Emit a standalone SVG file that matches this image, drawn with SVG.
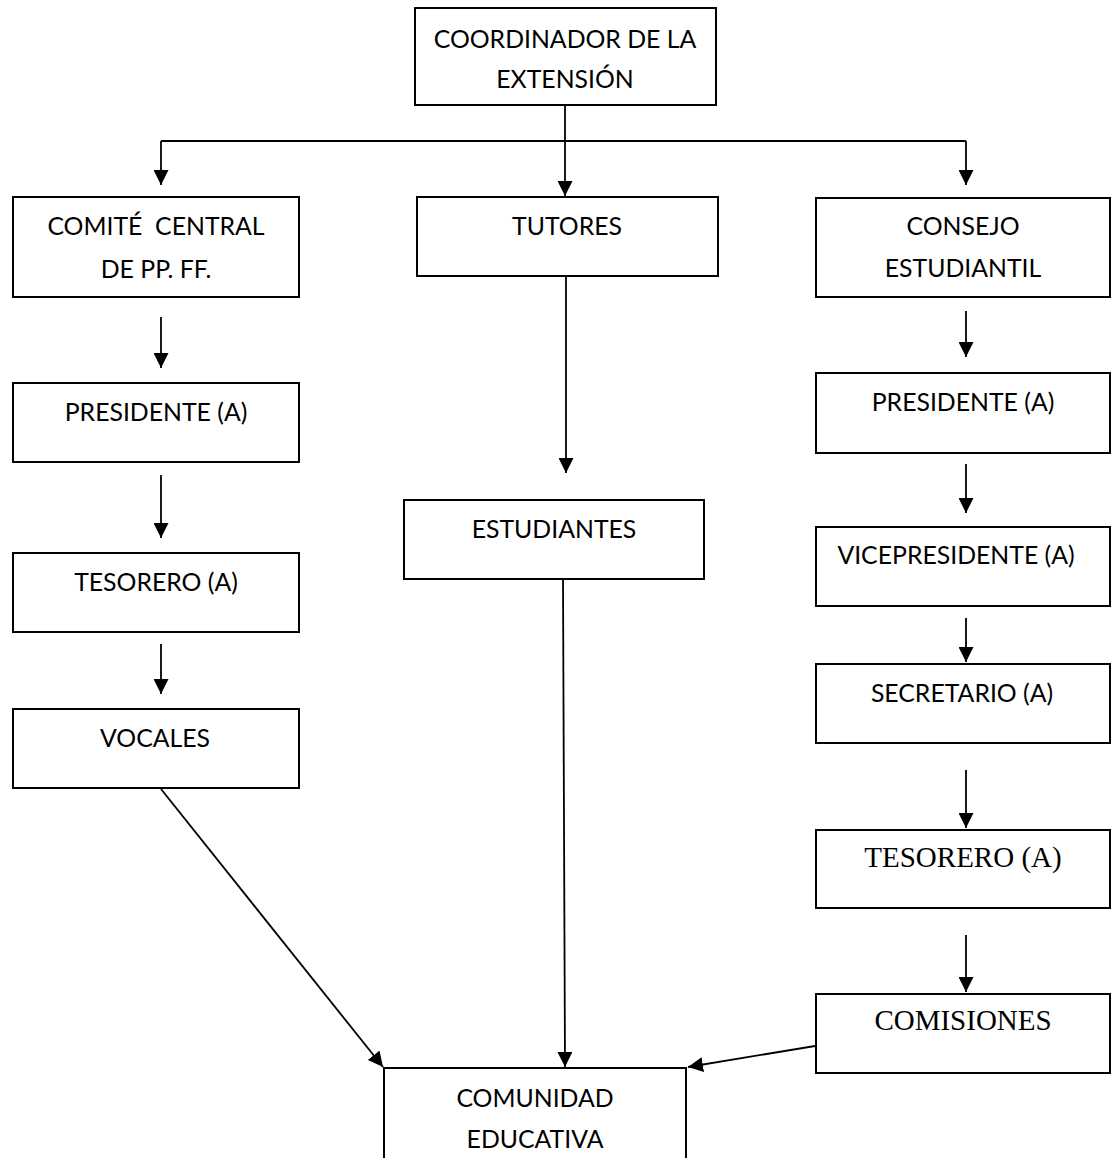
<svg xmlns="http://www.w3.org/2000/svg" width="1112" height="1158" viewBox="0 0 1112 1158">
  <defs>
    <marker id="ah" markerUnits="userSpaceOnUse" markerWidth="15" markerHeight="15" refX="15" refY="7.5" orient="auto">
      <path d="M0,0 L15,7.5 L0,15 z" fill="#000"/>
    </marker>
    <style>
      rect { fill: #fff; stroke: #000; stroke-width: 2; }
      text { font-family: Lato, "Liberation Sans", sans-serif; font-size: 24.8px; fill: #000; text-anchor: middle; white-space: pre; }
      text.serif { font-family: "Liberation Serif", serif; font-size: 29px; }
      .conn line, .conn path { stroke: #000; stroke-width: 1.8; fill: none; }
      .arr { marker-end: url(#ah); }
    </style>
  </defs>
  <rect x="0" y="0" width="1112" height="1158" style="fill:#fff;stroke:none"/>

  <g class="conn" id="connectors">
    <line x1="565" y1="106" x2="565" y2="196" class="arr"/>
    <line x1="161" y1="141" x2="966" y2="141"/>
    <line x1="161" y1="141" x2="161" y2="185" class="arr"/>
    <line x1="966" y1="141" x2="966" y2="185" class="arr"/>
    <line x1="161" y1="317" x2="161" y2="368" class="arr"/>
    <line x1="161" y1="475" x2="161" y2="538" class="arr"/>
    <line x1="161" y1="644" x2="161" y2="694" class="arr"/>
    <line x1="566" y1="277" x2="566" y2="473" class="arr"/>
    <line x1="563" y1="579" x2="565" y2="1067" class="arr"/>
    <line x1="161" y1="789" x2="383" y2="1067" class="arr"/>
    <line x1="966" y1="311" x2="966" y2="357" class="arr"/>
    <line x1="966" y1="464" x2="966" y2="513" class="arr"/>
    <line x1="966" y1="618" x2="966" y2="662" class="arr"/>
    <line x1="966" y1="770" x2="966" y2="828" class="arr"/>
    <line x1="966" y1="935" x2="966" y2="992" class="arr"/>
    <line x1="815" y1="1046" x2="688" y2="1067" class="arr"/>
  </g>

  <g id="coordinador">
    <rect x="415" y="8" width="301" height="97"/>
    <text x="565" y="48">COORDINADOR DE LA</text>
    <text x="565" y="88">EXTENSIÓN</text>
  </g>
  <g id="comite">
    <rect x="13" y="197" width="286" height="100"/>
    <text x="156" y="235">COMITÉ  CENTRAL</text>
    <text x="156" y="278">DE PP. FF.</text>
  </g>
  <g id="presidente-pf">
    <rect x="13" y="383" width="286" height="79"/>
    <text x="156" y="421">PRESIDENTE (A)</text>
  </g>
  <g id="tesorero-pf">
    <rect x="13" y="553" width="286" height="79"/>
    <text x="156" y="591">TESORERO (A)</text>
  </g>
  <g id="vocales">
    <rect x="13" y="709" width="286" height="79"/>
    <text x="155" y="747">VOCALES</text>
  </g>
  <g id="tutores">
    <rect x="417" y="197" width="301" height="79"/>
    <text x="567" y="235">TUTORES</text>
  </g>
  <g id="estudiantes">
    <rect x="404" y="500" width="300" height="79"/>
    <text x="554" y="538">ESTUDIANTES</text>
  </g>
  <g id="consejo">
    <rect x="816" y="198" width="294" height="99"/>
    <text x="963" y="235">CONSEJO</text>
    <text x="963" y="277">ESTUDIANTIL</text>
  </g>
  <g id="presidente-ce">
    <rect x="816" y="373" width="294" height="80"/>
    <text x="963" y="411">PRESIDENTE (A)</text>
  </g>
  <g id="vicepresidente">
    <rect x="816" y="527" width="294" height="79"/>
    <text x="956" y="564">VICEPRESIDENTE (A)</text>
  </g>
  <g id="secretario">
    <rect x="816" y="664" width="294" height="79"/>
    <text x="962" y="702">SECRETARIO (A)</text>
  </g>
  <g id="tesorero-ce">
    <rect x="816" y="830" width="294" height="78"/>
    <text class="serif" x="963" y="867">TESORERO (A)</text>
  </g>
  <g id="comisiones">
    <rect x="816" y="994" width="294" height="79"/>
    <text class="serif" x="963" y="1030">COMISIONES</text>
  </g>
  <g id="comunidad">
    <rect x="384" y="1068" width="302" height="120"/>
    <text x="535" y="1107">COMUNIDAD</text>
    <text x="535" y="1148">EDUCATIVA</text>
  </g>
</svg>
